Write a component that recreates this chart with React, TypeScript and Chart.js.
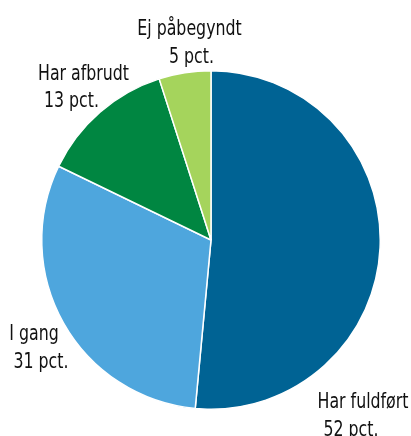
import React, { useEffect, useRef } from "react";
import { Chart, registerables } from "chart.js";

Chart.register(...registerables);

const categories = ["Har fuldført", "I gang", "Har afbrudt", "Ej påbegyndt"];
const values = [52, 31, 13, 5];
const valueLabels = ["52 pct.", "31 pct.", "13 pct.", "5 pct."];
const colors = ["#006394", "#4ea6dd", "#008641", "#a5d45c"];

// label line centers (x) and baselines (y) in canvas px
const labelPlacement = [
  { x1: 363, y1: 408, x2: 351, y2: 436 },
  { x1: 34, y1: 340, x2: 41, y2: 368 },
  { x1: 83.5, y1: 80, x2: 71.5, y2: 107 },
  { x1: 189.5, y1: 35, x2: 191.5, y2: 63 },
];

const labelPlugin = {
  id: "sliceLabels",
  afterDraw(chart: any) {
    const ctx = chart.ctx;
    ctx.save();
    ctx.fillStyle = "#111111";
    ctx.font = '21px "Liberation Sans Narrow", "DejaVu Sans Condensed", sans-serif';
    ctx.textAlign = "center";
    ctx.textBaseline = "alphabetic";
    const ref = ctx.measureText("Har afbrudt").width;
    const sx = 91 / ref;
    categories.forEach((c, i) => {
      const p = labelPlacement[i];
      ctx.save();
      ctx.translate(p.x1, p.y1);
      ctx.scale(sx, 1);
      ctx.fillText(c, 0, 0);
      ctx.restore();
      ctx.save();
      ctx.translate(p.x2, p.y2);
      ctx.scale(sx, 1);
      ctx.fillText(valueLabels[i], 0, 0);
      ctx.restore();
    });
    ctx.restore();
  },
};

export default function App() {
  const ref = useRef<HTMLCanvasElement>(null);
  useEffect(() => {
    const chart = new Chart(ref.current!, {
      type: "pie",
      data: {
        labels: categories,
        datasets: [
          {
            data: values,
            backgroundColor: colors,
            borderColor: "#ffffff",
            borderWidth: 1.5,
          },
        ],
      },
      options: {
        animation: false,
        responsive: false,
        maintainAspectRatio: false,
        layout: { padding: { left: 41, right: 30, top: 70, bottom: 26 } },
        plugins: {
          legend: { display: false },
          tooltip: { enabled: false },
        },
      },
      plugins: [labelPlugin],
    });
    return () => chart.destroy();
  }, []);
  return (
    <div style={{ position: "fixed", left: 0, top: 0, width: 411, height: 436, background: "#fff" }}>
      <canvas ref={ref} width={411} height={436} />
    </div>
  );
}
